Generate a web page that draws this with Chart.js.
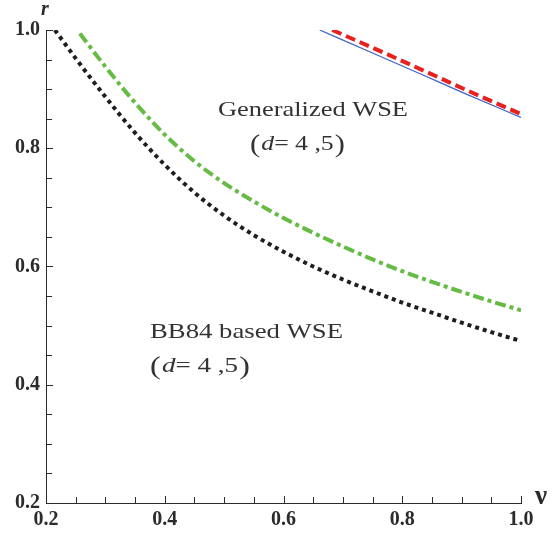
<!DOCTYPE html>
<html>
<head>
<meta charset="utf-8">
<script src="https://cdn.jsdelivr.net/npm/chart.js@4/dist/chart.umd.min.js"></script>
<style>
  html, body { margin: 0; padding: 0; background: #fff; }
  #wrap { width: 552px; height: 534px; }
</style>
</head>
<body>
<div id="wrap"><canvas id="rateChart" width="552" height="534"></canvas></div>
<script>
// values
const bb84V = [0.215, 0.25, 0.30, 0.35, 0.40, 0.45, 0.50, 0.55, 0.60, 0.65, 0.70, 0.75, 0.80, 0.85, 0.90, 0.95, 1.00];
const bb84R = [1.000, 0.952, 0.887, 0.826, 0.772, 0.725, 0.686, 0.653, 0.625, 0.600, 0.578, 0.558, 0.539, 0.522, 0.505, 0.489, 0.474];

const genV = [0.257, 0.30, 0.35, 0.40, 0.45, 0.50, 0.55, 0.60, 0.65, 0.70, 0.75, 0.80, 0.85, 0.90, 0.95, 1.00];
const genR = [0.994, 0.938, 0.877, 0.823, 0.778, 0.741, 0.710, 0.682, 0.657, 0.634, 0.612, 0.592, 0.574, 0.557, 0.541, 0.526];

const blueV = [0.661, 0.75, 0.83, 0.90, 1.00];
const blueR = [1.000, 0.961, 0.926, 0.895, 0.852];

const redV = [0.682, 0.75, 0.85, 0.92, 1.00];
const redR = [1.000, 0.970, 0.925, 0.893, 0.858];

const axisMin = 0.2;
const axisMax = 1.0;
const majorStep = 0.2;
const minorStep = 0.05;

const SERIF = '"Liberation Serif", "Times New Roman", "DejaVu Serif", serif';
const TICK_FONT = { family: SERIF, size: 20, weight: 'bold' };
const INK = '#2b2b2b';
const TEXT_GREY = '#333333';

function toPoints(xs, ys) {
  return xs.map((x, i) => ({ x: x, y: ys[i] }));
}

// draw a string stretched to a given width (the original uses a wider TeX face)
function fitText(ctx, str, x, y, width) {
  const w = ctx.measureText(str).width;
  ctx.save();
  ctx.translate(x, y);
  ctx.scale(width / w, 1);
  ctx.fillText(str, 0, 0);
  ctx.restore();
}

function drawParam(ctx, x, y, width) {
  // measure natural width first, then stretch the whole group
  const parts = [
    { t: '(', f: '26px ' + SERIF, dy: 2, gap: 1 },
    { t: 'd', f: 'italic 22px ' + SERIF, dy: 0, gap: 0 },
    { t: '= 4 ,5', f: '22px ' + SERIF, dy: 0, gap: 1 },
    { t: ')', f: '26px ' + SERIF, dy: 2, gap: 0 }
  ];
  let total = 0;
  parts.forEach(p => { ctx.font = p.f; p.w = ctx.measureText(p.t).width; total += p.w + p.gap; });
  ctx.save();
  ctx.translate(x, y);
  ctx.scale(width / total, 1);
  let cx = 0;
  parts.forEach(p => {
    ctx.font = p.f;
    ctx.fillText(p.t, cx, p.dy);
    cx += p.w + p.gap;
  });
  ctx.restore();
}

// inward tick marks, axis names and the two text notes
const decorPlugin = {
  id: 'decor',
  afterDraw(chart) {
    const ctx = chart.ctx;
    const xs = chart.scales.x;
    const ys = chart.scales.y;
    const area = chart.chartArea;
    ctx.save();
    ctx.strokeStyle = INK;
    ctx.lineWidth = 1;
    const n = Math.round((axisMax - axisMin) / minorStep);
    for (let i = 0; i <= n; i++) {
      const v = axisMin + i * minorStep;
      const len = (i % 4 === 0) ? 7 : 6;
      const px = Math.round(xs.getPixelForValue(v)) + 0.5;
      ctx.beginPath();
      ctx.moveTo(px, area.bottom);
      ctx.lineTo(px, area.bottom - len);
      ctx.stroke();
      const py = Math.round(ys.getPixelForValue(v)) + 0.5;
      ctx.beginPath();
      ctx.moveTo(area.left, py);
      ctx.lineTo(area.left + len, py);
      ctx.stroke();
    }

    // axis names
    ctx.fillStyle = INK;
    ctx.textBaseline = 'alphabetic';
    ctx.textAlign = 'center';
    ctx.font = 'italic bold 20px ' + SERIF;
    ctx.fillText('r', area.left - 1, 15);
    ctx.font = 'bold 27px ' + SERIF;
    ctx.fillText('\u03bd', area.right + 20, area.bottom + 1);

    // notes
    ctx.fillStyle = TEXT_GREY;
    ctx.textAlign = 'left';
    ctx.font = '22px ' + SERIF;
    fitText(ctx, 'Generalized WSE', 218, 116, 190);
    drawParam(ctx, 250, 150, 95);
    ctx.font = '22px ' + SERIF;
    fitText(ctx, 'BB84 based WSE', 150, 338, 193);
    drawParam(ctx, 150, 372, 100);
    ctx.restore();
  }
};

const ctx = document.getElementById('rateChart').getContext('2d');
new Chart(ctx, {
  type: 'scatter',
  data: {
    datasets: [
      {
        label: 'BB84 based WSE',
        data: toPoints(bb84V, bb84R),
        showLine: true,
        borderColor: '#1e1e1e',
        borderWidth: 4,
        borderDash: [4, 4],
        cubicInterpolationMode: 'monotone',
        pointRadius: 0
      },
      {
        label: 'Generalized WSE',
        data: toPoints(genV, genR),
        showLine: true,
        borderColor: '#66bb44',
        borderWidth: 4,
        borderDash: [11, 4, 4, 4],
        cubicInterpolationMode: 'monotone',
        pointRadius: 0
      },
      {
        label: 'blue',
        data: toPoints(blueV, blueR),
        showLine: true,
        borderColor: '#3f62c8',
        borderWidth: 1.2,
        cubicInterpolationMode: 'monotone',
        pointRadius: 0
      },
      {
        label: 'red',
        data: toPoints(redV, redR),
        showLine: true,
        borderColor: '#e8201e',
        borderWidth: 4,
        borderDash: [10, 5],
        cubicInterpolationMode: 'monotone',
        pointRadius: 0
      }
    ]
  },
  options: {
    responsive: false,
    animation: false,
    layout: { padding: { top: 30, right: 31, left: 0, bottom: 0 } },
    plugins: {
      legend: { display: false },
      tooltip: { enabled: false }
    },
    scales: {
      x: {
        type: 'linear',
        min: axisMin,
        max: axisMax,
        afterFit: function(scale) { scale.height = 31; },
        grid: { display: false, drawTicks: false },
        border: { display: true, color: INK, width: 1 },
        ticks: {
          stepSize: majorStep,
          padding: 5,
          color: INK,
          font: TICK_FONT,
          maxRotation: 0,
          callback: function(v) { return Number(v).toFixed(1); }
        }
      },
      y: {
        type: 'linear',
        min: axisMin,
        max: axisMax,
        afterFit: function(scale) { scale.width = 46; },
        grid: { display: false, drawTicks: false },
        border: { display: true, color: INK, width: 1 },
        ticks: {
          stepSize: majorStep,
          padding: 6,
          color: INK,
          font: TICK_FONT,
          callback: function(v) { return Number(v).toFixed(1); }
        }
      }
    }
  },
  plugins: [decorPlugin]
});
</script>
</body>
</html>
